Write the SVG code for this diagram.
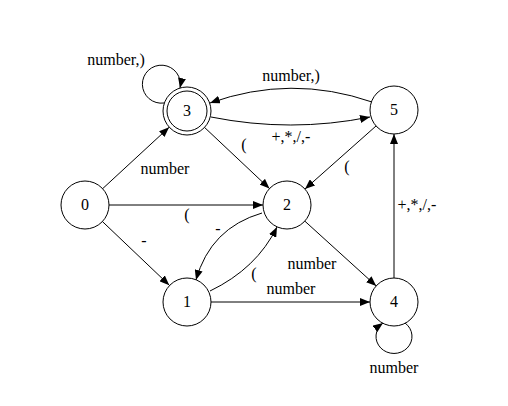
<svg xmlns="http://www.w3.org/2000/svg" width="508" height="406" viewBox="0 0 508 406">
  <style>
    .state { fill: #ffffff; stroke: #000000; stroke-width: 1; }
    .edge { fill: none; stroke: #000000; stroke-width: 1; marker-end: url(#arrow); }
    .lbl { font-family: "Liberation Serif", "Times New Roman", serif; font-size: 16px; fill: #000000; text-anchor: middle; }
  </style>
  <defs>
    <marker id="arrow" markerUnits="userSpaceOnUse" markerWidth="10" markerHeight="8" refX="10" refY="4" orient="auto">
      <path d="M0,0 L10,4 L0,8 z" fill="#000000"/>
    </marker>
  </defs>
  <rect width="508" height="406" fill="#ffffff"/>

  <!-- transitions -->
  <g id="connectors">
    <!-- 3 self loop -->
    <path class="edge" d="M164,103 A19,19 0 1 1 180,88"/>
    <text class="lbl" x="116" y="65">number,)</text>
    <!-- 0 -> 3 -->
    <path class="edge" d="M102.6,188.7 L169.1,127.3"/>
    <text class="lbl" x="165" y="174">number</text>
    <!-- 0 -> 2 -->
    <path class="edge" d="M109,205 L263,205"/>
    <text class="lbl" x="187" y="220">(</text>
    <!-- 0 -> 1 -->
    <path class="edge" d="M102.4,221.5 L169.3,285.2"/>
    <text class="lbl" x="144" y="246">-</text>
    <!-- 2 -> 1 -->
    <path class="edge" d="M262,213 Q210.5,228 196,280"/>
    <text class="lbl" x="218" y="234">-</text>
    <!-- 1 -> 2 -->
    <path class="edge" d="M210,291 Q256.7,268.5 277,227"/>
    <text class="lbl" x="254" y="279">(</text>
    <!-- 1 -> 4 -->
    <path class="edge" d="M211,302 L370,302"/>
    <text class="lbl" x="291" y="294">number</text>
    <!-- 2 -> 4 -->
    <path class="edge" d="M304.8,221.1 L376.2,285.9"/>
    <text class="lbl" x="312" y="269">number</text>
    <!-- 4 self loop -->
    <path class="edge" d="M405,323 A18,17 0 1 1 383,323"/>
    <text class="lbl" x="394" y="373">number</text>
    <!-- 4 -> 5 -->
    <path class="edge" d="M394,278 L394,134"/>
    <text class="lbl" x="417" y="210">+,*,/,-</text>
    <!-- 5 -> 3 -->
    <path class="edge" d="M372,102 Q291,74 210,103"/>
    <text class="lbl" x="291" y="81">number,)</text>
    <!-- 3 -> 5 -->
    <path class="edge" d="M211,117 Q291,133 370,117"/>
    <text class="lbl" x="291" y="142">+,*,/,-</text>
    <!-- 3 -> 2 -->
    <path class="edge" d="M204.5,127.4 L269.5,188.6"/>
    <text class="lbl" x="244" y="150">(</text>
    <!-- 5 -> 2 -->
    <path class="edge" d="M376,126 L305,189"/>
    <text class="lbl" x="347" y="172">(</text>
  </g>

  <!-- states -->
  <g id="node0">
    <circle class="state" cx="85" cy="205" r="24"/>
    <text class="lbl" x="85" y="210">0</text>
  </g>
  <g id="node1">
    <circle class="state" cx="187" cy="302" r="24"/>
    <text class="lbl" x="187" y="307">1</text>
  </g>
  <g id="node2">
    <circle class="state" cx="287" cy="205" r="24"/>
    <text class="lbl" x="287" y="210">2</text>
  </g>
  <g id="node3">
    <circle class="state" cx="187" cy="111" r="24"/>
    <circle class="state" cx="187" cy="111" r="20"/>
    <text class="lbl" x="187" y="116">3</text>
  </g>
  <g id="node4">
    <circle class="state" cx="394" cy="302" r="24"/>
    <text class="lbl" x="394" y="307">4</text>
  </g>
  <g id="node5">
    <circle class="state" cx="394" cy="110" r="24"/>
    <text class="lbl" x="394" y="115">5</text>
  </g>
</svg>
